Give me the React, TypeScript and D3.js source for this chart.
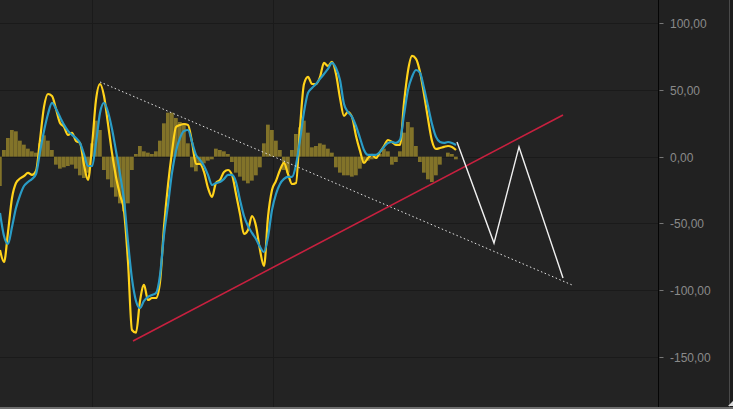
import React from "react";
import * as d3 from "d3";

// Oscillator data (index step = one bar)
const fastLine: number[] = [
  -70.0, -79.0, -56.5, -31.0, -19.7, -16.4, -14.5, -12.2, -13.7, -10.7,
  12.5, 37.3, 47.0, 45.5, 35.8, 25.3, 22.3, 16.3, 17.8, 11.8,
  10.3, -6.2, -17.5, 8.0, 42.5, 54.5, 45.5, 24.5, 2.8, -15.2,
  -28.7, -40.7, -79.0, -130.0, -132.0, -108.2, -96.2, -107.5, -106.0, -106.0,
  -94.0, -52.7, -21.2, 3.5, 22.3, 23.8, 24.5, 23.8, 11.0, -5.5,
  -5.5, -11.5, -23.5, -30.2, -19.7, -17.5, -11.5, -10.0, -13.7, -28.0,
  -43.0, -58.0, -55.0, -44.5, -52.0, -70.0, -82.0, -45.2, -25.0, -18.2,
  -10.0, -4.7, -13.0, -20.5, -19.7, 21.5, 54.5, 59.8, 54.5, 54.5,
  59.8, 70.3, 68.0, 71.0, 62.0, 44.0, 30.5, 33.5, 29.8, 15.5,
  4.3, -4.7, -1.0, 1.3, -1.0, 3.5, 8.0, 12.5, 11.0, 8.8,
  8.8, 40.3, 64.3, 75.5, 73.3, 63.5, 47.0, 28.3, 11.8, 5.8,
  6.5, 7.3, 8.0, 7.3, 5.0,
];

const slowLine: number[] = [
  -42.2, -59.5, -65.5, -52.7, -38.5, -29.0, -22.0, -19.0, -16.7, -13.0,
  3.5, 19.3, 32.0, 40.3, 35.8, 29.8, 23.8, 19.3, 16.3, 14.0,
  10.3, 2.0, -7.0, -7.0, 10.3, 32.8, 40.3, 33.5, 20.8, 4.3,
  -13.0, -32.5, -64.0, -91.7, -108.2, -113.5, -108.2, -105.2, -103.7, -102.2,
  -89.0, -58.7, -36.2, -12.2, 4.3, 14.0, 19.3, 20.0, 11.0, 1.3,
  -2.5, -7.0, -13.7, -21.2, -19.7, -19.0, -16.7, -13.7, -13.7, -19.0,
  -32.5, -44.5, -52.0, -57.2, -61.7, -67.7, -71.5, -60.2, -40.0, -28.0,
  -20.5, -16.7, -15.2, -15.2, -6.2, 12.5, 33.5, 47.8, 51.5, 54.5,
  58.3, 62.0, 65.8, 70.3, 66.5, 57.5, 39.5, 33.5, 29.8, 23.0,
  14.0, 5.0, 1.3, 1.3, 1.3, 3.5, 7.3, 10.3, 11.0, 10.3,
  12.5, 31.3, 50.0, 59.8, 65.0, 62.8, 51.5, 38.0, 24.5, 14.8,
  11.0, 10.3, 11.0, 10.3, 8.8,
];

const histogram: number[] = [
  -22, 5, 14, 20, 19, 12, 9, 6, 4, 3,
  10, 16, 12, 5, -6, -9, -8, -7, -6, -9,
  -14, -16, -12, 10, 27, 20, -10, -17, -23, -30,
  -35, -41, -35, -10, 2, 8, 4, 3, 2, 4,
  12, 25, 33, 33, 29, 26, 25, 10, -8, -11,
  -6, -5, -3, -2, 6, 5, 4, 2, -4, -12,
  -15, -18, -20, -18, -14, -8, 10, 24, 20, 12,
  5, -10, -12, 5, 17, 22, 27, 18, 7, 8,
  10, 9, 6, 3, -8, -12, -14, -14, -15, -14,
  -9, -5, -3, -2, -1, 2, 6, 4, -6, -4,
  4, 18, 26, 22, 8, -4, -12, -17, -19, -14,
  -6, 0, 3, 2, -2,
];

const yTicks: number[] = [100, 50, 0, -50, -100, -150];
const xGridIndex: number[] = [23, 68.25];

// Drawn annotations: [index, value]
const supportLine: [number, number][] = [[33.25, -138.2], [140.75, 31.3]];
const resistanceLine: [number, number][] = [[25, 56.0], [143, -96.2]];
const zigzagLine: [number, number][] = [[114.25, 11.0], [123.5, -64.8], [129.75, 7.3], [140.75, -91.0]];

const W = 733;
const H = 409;
const AXIS_X = 658.5;

export default function App() {
  const x = d3.scaleLinear().domain([0, 114]).range([0, 456]);
  const y = d3.scaleLinear().domain([-150, 100]).range([356.7, 23.3]);
  const fmt = (v: number) => d3.format(".2f")(v).replace(".", ",").replace("\u2212", "-");

  const line = d3
    .line<number>()
    .x((_, i) => x(i))
    .y((d) => y(d))
    .curve(d3.curveMonotoneX);
  const segLine = d3
    .line<[number, number]>()
    .x((d) => x(d[0]))
    .y((d) => y(d[1]));

  const step = x(1) - x(0);

  return (
    <svg
      width={W}
      height={H}
      style={{ position: "fixed", left: 0, top: 0, display: "block" }}
      fontFamily="'Liberation Sans', Arial, sans-serif"
    >
      <rect x={0} y={0} width={W} height={H} fill="#232323" />
      <rect x={AXIS_X} y={0} width={W - AXIS_X} height={H} fill="#212121" />
      {/* grid */}
      {yTicks.map((t) => (
        <line key={"g" + t} x1={0} x2={AXIS_X} y1={Math.round(y(t)) + 0.5} y2={Math.round(y(t)) + 0.5} stroke="#1a1a1a" strokeWidth={1} />
      ))}
      {xGridIndex.map((g) => (
        <line key={"v" + g} x1={Math.round(x(g)) + 0.5} x2={Math.round(x(g)) + 0.5} y1={0} y2={H} stroke="#1a1a1a" strokeWidth={1} />
      ))}
      {/* histogram */}
      <g fill="#827329">
        {histogram.map((v, i) => (
          <rect
            key={"h" + i}
            x={x(i) - step / 2}
            width={step - 0.25}
            y={Math.min(y(v), y(0))}
            height={Math.abs(y(v) - y(0))}
          />
        ))}
      </g>
      {/* lines */}
      <path d={line(fastLine) || ""} fill="none" stroke="#ffd21a" strokeWidth={2.2} strokeLinejoin="round" />
      <path d={line(slowLine) || ""} fill="none" stroke="#2a9cc6" strokeWidth={2.2} strokeLinejoin="round" />
      {/* annotations */}
      <path d={segLine(resistanceLine) || ""} fill="none" stroke="#e6e6e6" strokeWidth={1} strokeDasharray="1.5,2.5" />
      <path d={segLine(supportLine) || ""} fill="none" stroke="#c8203f" strokeWidth={1.6} />
      <path d={segLine(zigzagLine) || ""} fill="none" stroke="#f0f0f0" strokeWidth={1.4} strokeLinejoin="miter" />
      {/* axis */}
      <line x1={AXIS_X} x2={AXIS_X} y1={0} y2={H} stroke="#050505" strokeWidth={1} />
      {yTicks.map((t) => (
        <g key={"t" + t} transform={`translate(0,${Math.round(y(t)) + 0.5})`}>
          <line x1={AXIS_X + 1} x2={AXIS_X + 5} stroke="#777" strokeWidth={1} />
          <text x={670} dy="0.35em" fill="#8a8a8a" fontSize={12}>
            {fmt(t)}
          </text>
        </g>
      ))}
      <line x1={729.5} x2={729.5} y1={0} y2={H} stroke="#4a4a4a" strokeWidth={1} />
      <rect x={730} y={0} width={3} height={H} fill="#1c1c1c" />
      <rect x={0} y={407} width={W} height={2} fill="#6e6e6e" />
      <path d="M 728 406 L 733 401 L 733 406 Z" fill="#dddddd" />
    </svg>
  );
}
